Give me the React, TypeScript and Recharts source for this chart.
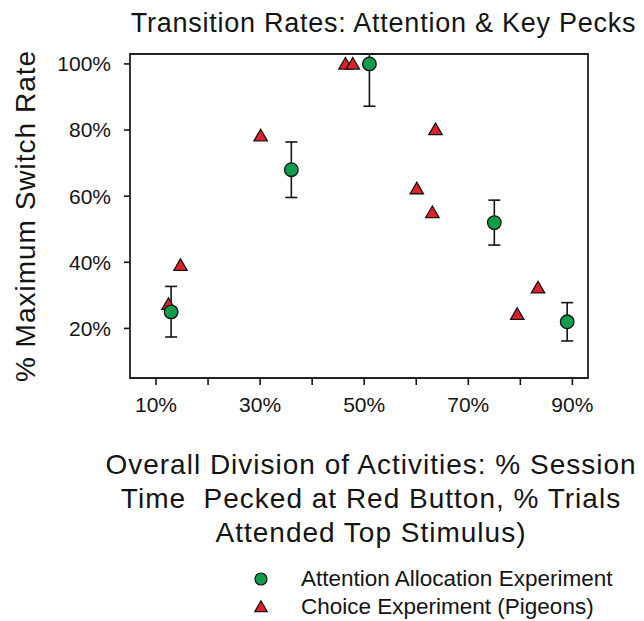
import React from 'react';
import { ScatterChart, Scatter, XAxis, YAxis, ErrorBar, ReferenceArea, Legend } from 'recharts';

const FONT = 'Arial, "Liberation Sans", Helvetica, sans-serif';
const GREEN = '#0d9d4b';
const RED = '#e3202a';
const INK = '#141414';

// Attention Allocation Experiment (circles with error bars)
const attentionX = [12.9, 36.0, 51.0, 75.0, 89.0];
const attentionY = [25.0, 68.0, 100.0, 52.0, 22.0];
const attentionErrLow = [7.6, 8.4, 12.8, 6.8, 5.8];
const attentionErrHigh = [7.7, 8.4, 3.0, 6.8, 5.8];

// Choice Experiment (Pigeons) (triangles)
const choiceX = [12.4, 14.7, 30.1, 46.4, 47.8, 60.1, 63.1, 63.7, 79.4, 83.4];
const choiceY = [26.9, 38.7, 77.9, 99.6, 99.6, 61.9, 54.7, 79.8, 23.9, 31.9];

const xDomain = [5, 93];
const yDomain = [5, 103];
const xTicks = [10, 20, 30, 40, 50, 60, 70, 80, 90];
const xTickLabels = [10, 30, 50, 70, 90];
const yTicks = [20, 40, 60, 80, 100];

const titleText = 'Transition Rates: Attention & Key Pecks';
const yAxisTitle = '% Maximum Switch Rate';
const xAxisTitleLines = [
  'Overall Division of Activities: % Session',
  'Time  Pecked at Red Button, % Trials',
  'Attended Top Stimulus)',
];
const seriesNames = ['Attention Allocation Experiment', 'Choice Experiment (Pigeons)'];

const attentionData = attentionX.map((x, i) => ({
  x,
  y: attentionY[i],
  err: [attentionErrLow[i], attentionErrHigh[i]],
}));
const choiceData = choiceX.map((x, i) => ({ x, y: choiceY[i] }));

const CircleShape = (props: any) => {
  const { cx, cy } = props;
  if (cx == null || cy == null) return null;
  return <circle cx={cx} cy={cy} r={6.8} fill={GREEN} stroke={INK} strokeWidth={1.3} />;
};

const triPath = (cx: number, cy: number, s: number) => {
  const k = Math.sqrt(3) * s;
  return `M${cx},${cy - 2 * s}L${cx + k},${cy + s}L${cx - k},${cy + s}Z`;
};

const TriangleShape = (props: any) => {
  const { cx, cy } = props;
  if (cx == null || cy == null) return null;
  return <path d={triPath(cx, cy, 3.85)} fill={RED} stroke={INK} strokeWidth={1.3} strokeLinejoin="miter" />;
};

const XLabelContent = (props: any) => {
  const vb = props.viewBox || {};
  const cx = vb.x + vb.width / 2 + 12;
  return (
    <text
      fontFamily={FONT}
      fontSize={28}
      fill={INK}
      textAnchor="middle"
      style={{ whiteSpace: 'pre', letterSpacing: '1px' }}
    >
      {xAxisTitleLines.map((line, i) => (
        <tspan key={i} x={cx} y={vb.y + 96 + i * 34}>
          {line}
        </tspan>
      ))}
    </text>
  );
};

const YLabelContent = (props: any) => {
  const vb = props.viewBox || {};
  const x = vb.x - 35.5;
  const y = vb.y + vb.height / 2;
  return (
    <text
      x={x}
      y={y}
      transform={`rotate(-90, ${x}, ${y})`}
      fontFamily={FONT}
      fontSize={28}
      fill={INK}
      textAnchor="middle"
      style={{ letterSpacing: '1px' }}
    >
      {yAxisTitle}
    </text>
  );
};

const renderLegend = (props: any) => {
  const items = [...(props.payload || [])].sort(
    (a: any, b: any) => seriesNames.indexOf(a.value) - seriesNames.indexOf(b.value)
  );
  return (
    <div style={{ fontFamily: FONT, fontSize: 22.5, color: INK }}>
      {items.map((it: any) => (
        <div key={it.value} style={{ display: 'flex', alignItems: 'center', height: 28 }}>
          <svg width={26} height={26} style={{ flex: 'none' }}>
            {it.type === 'triangle' ? (
              <path d={triPath(13, 14, 3.6)} fill={it.color} stroke={INK} strokeWidth={1.2} />
            ) : (
              <circle cx={13} cy={13} r={6} fill={it.color} stroke={INK} strokeWidth={1.2} />
            )}
          </svg>
          <span style={{ marginLeft: 27, whiteSpace: 'nowrap' }}>{it.value}</span>
        </div>
      ))}
    </div>
  );
};

export default function App() {
  return (
    <div style={{ position: 'absolute', left: 0, top: 0, width: 644, height: 621, background: '#fff' }}>
      <ScatterChart width={644} height={621} margin={{ top: 54, right: 56, bottom: 203, left: 70 }}>
        <text x={383.5} y={32} fontFamily={FONT} fontSize={27} fill={INK} textAnchor="middle" style={{ letterSpacing: '0.75px' }}>
          {titleText}
        </text>
        <XAxis
          type="number"
          dataKey="x"
          domain={xDomain}
          ticks={xTicks}
          interval={0}
          allowDataOverflow
          axisLine={false}
          tickSize={7}
          tickMargin={12}
          height={40}
          tickLine={{ stroke: INK, strokeWidth: 1.6 }}
          tick={{ fontFamily: FONT, fontSize: 21, fill: INK }}
          tickFormatter={(v: number) => (xTickLabels.includes(v) ? `${v}%` : '')}
          label={{ content: XLabelContent }}
        />
        <YAxis
          type="number"
          dataKey="y"
          domain={yDomain}
          ticks={yTicks}
          interval={0}
          allowDataOverflow
          axisLine={false}
          tickSize={6}
          tickMargin={13}
          width={60}
          tickLine={{ stroke: INK, strokeWidth: 1.6 }}
          tick={{ fontFamily: FONT, fontSize: 21, fill: INK }}
          tickFormatter={(v: number) => `${v}%`}
          label={{ content: YLabelContent }}
        />
        <ReferenceArea
          x1={xDomain[0]}
          x2={xDomain[1]}
          y1={yDomain[0]}
          y2={yDomain[1]}
          fill="none"
          fillOpacity={0}
          stroke="#222"
          strokeWidth={1.8}
        />
        <Scatter
          name={seriesNames[1]}
          data={choiceData}
          fill={RED}
          legendType="triangle"
          shape={TriangleShape}
          isAnimationActive={false}
        />
        <Scatter
          name={seriesNames[0]}
          data={attentionData}
          fill={GREEN}
          legendType="circle"
          shape={CircleShape}
          isAnimationActive={false}
        >
          <ErrorBar dataKey="err" direction="y" width={6} stroke={INK} strokeWidth={1.6} isAnimationActive={false} />
        </Scatter>
        <Legend
          content={renderLegend}
          layout="vertical"
          verticalAlign="middle"
          align="center"
          wrapperStyle={{ left: 248, top: 565, width: 396, height: 56 }}
        />
      </ScatterChart>
    </div>
  );
}
